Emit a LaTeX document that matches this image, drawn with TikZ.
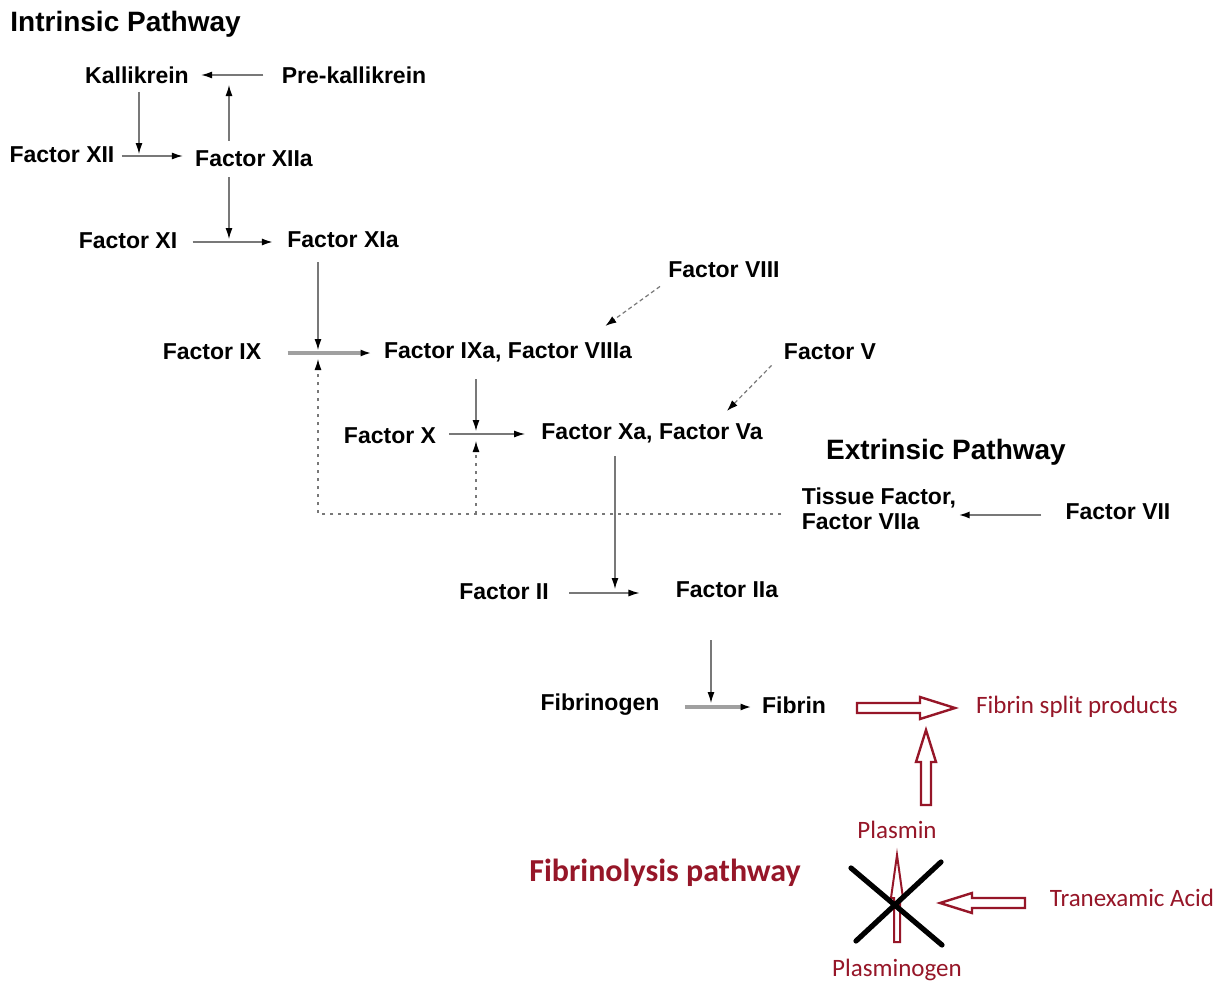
\documentclass[tikz,border=0pt]{standalone}
\usepackage{fontspec}
\setmainfont{Liberation Sans}
\newfontfamily\calfont{Carlito}
\usetikzlibrary{arrows.meta}
\definecolor{dred}{RGB}{150,22,40}
\definecolor{lgray}{RGB}{120,120,120}
\begin{document}
\begin{tikzpicture}[x=0.5pt,y=-0.5pt,
  lbl/.style={font=\fontsize{11.5}{12.5}\selectfont\bfseries, inner sep=0pt},
  ttl/.style={font=\fontsize{14}{16}\selectfont\bfseries, inner sep=0pt},
  rlbl/.style={font=\calfont\fontsize{12.5}{14}\selectfont, text=dred, inner sep=0pt},
  conn/.style={draw=lgray, line width=0.6pt, -{Latex[length=5.5pt,width=3.5pt,color=black]}},
  thick conn/.style={draw=lgray!70, line width=1.6pt, -{Latex[length=5.5pt,width=3.5pt,color=black]}},
  dconn/.style={draw=lgray, line width=0.6pt, dash pattern=on 2pt off 1.5pt, -{Latex[length=5.5pt,width=3.8pt,color=black]}},
  dotline/.style={draw=lgray, line width=0.9pt, dash pattern=on 1.5pt off 2.5pt},
  hollow/.style={draw=dred, line width=1.2pt, fill=white, line join=miter}
]
\useasboundingbox (0,0) rectangle (1228,985);
\fill[white] (0,0) rectangle (1228,985);

% titles
\node[ttl, anchor=west] (intr) at (10,24) {Intrinsic Pathway};
\node[ttl] (extr) at (946,452) {Extrinsic Pathway};
\node[font=\calfont\bfseries\fontsize{16}{18}\selectfont, text=dred, inner sep=0pt] (fibro) at (665,873) {Fibrinolysis pathway};

% nodes
\node[lbl] (kal) at (137,75) {Kallikrein};
\node[lbl] (pre) at (354,75) {Pre-kallikrein};
\node[lbl] (xii) at (62,155) {Factor XII};
\node[lbl] (xiia) at (254,159) {Factor XIIa};
\node[lbl] (xi) at (128,241) {Factor XI};
\node[lbl] (xia) at (343,240) {Factor XIa};
\node[lbl] (ix) at (212,352) {Factor IX};
\node[lbl] (ixa) at (508,352) {Factor IXa, Factor VIIIa};
\node[lbl] (viii) at (724,270) {Factor VIII};
\node[lbl] (v) at (830,352) {Factor V};
\node[lbl] (x) at (390,436) {Factor X};
\node[lbl] (xa) at (652,433) {Factor Xa, Factor Va};
\node[lbl, align=left] (tf) at (879,509) {Tissue Factor,\\Factor VIIa};
\node[lbl] (vii) at (1118,512) {Factor VII};
\node[lbl] (ii) at (504,592) {Factor II};
\node[lbl] (iia) at (727,590) {Factor IIa};
\node[lbl] (fg) at (600,705) {Fibrinogen};
\node[lbl] (fib) at (794,705) {Fibrin};
\node[rlbl] (fsp) at (1077,707) {Fibrin split products};
\node[rlbl] (plasmin) at (897,830) {Plasmin};
\node[rlbl] (tranex) at (1132,898) {Tranexamic Acid};
\node[rlbl] (plgn) at (897,970) {Plasminogen};

% row coordinates for horizontal connectors
\coordinate (r0) at (0,75);
\coordinate (r1) at (0,156);
\coordinate (r2) at (0,242);
\coordinate (r3) at (0,353);
\coordinate (r4) at (0,434);
\coordinate (r5) at (0,515);
\coordinate (r6) at (0,593);
\coordinate (r7) at (0,707);

% junction coordinates
\coordinate (j0) at (229,75);
\coordinate (j1) at (139,154);
\coordinate (j2) at (229,239);
\coordinate (j3) at (318,350);
\coordinate (j4) at (476,431);
\coordinate (j4b) at (476,441);
\coordinate (j3b) at (318,359);
\coordinate (d1) at (318,514);
\coordinate (d2) at (476,514);
\coordinate (d3) at (781,514);
\coordinate (j5) at (615,589);
\coordinate (j6) at (711,703);

% intrinsic connectors
\draw[conn] ([xshift=-9pt]pre.west |- r0) -- ([xshift=6pt]kal.east |- r0);
\draw[conn] ([yshift=5pt]xiia.north -| j0) -- ([yshift=-5pt]j0);
\draw[conn] ([yshift=-4pt]kal.south -| j1) -- (j1);
\draw[conn] ([xshift=3.5pt]xii.east |- r1) -- ([xshift=-6pt]xiia.west |- r1);
\draw[conn] ([yshift=-5pt]xiia.south -| j2) -- (j2);
\draw[conn, line width=0.9pt] ([xshift=7.5pt]xi.east |- r2) -- ([xshift=-7pt]xia.west |- r2);
\draw[conn] ([yshift=-7pt]xia.south -| j3) -- (j3);
\draw[thick conn] ([xshift=13pt]ix.east |- r3) -- ([xshift=-6pt]ixa.west |- r3);
\draw[dconn] ([shift={(-4pt,-4pt)}]viii.south west) -- ([shift={(-13.5pt,8pt)}]ixa.north east);
\draw[dconn] ([shift={(-6pt,-2.5pt)}]v.south west) -- ([shift={(-18pt,6pt)}]xa.north east);
\draw[conn] ([yshift=-8.5pt]ixa.south -| j4) -- (j4);
\draw[conn] ([xshift=6.5pt]x.east |- r4) -- ([xshift=-8pt]xa.west |- r4);
% dotted extrinsic feedback
\draw[dotline] (d3) -- (d1) -- ([yshift=-6pt]j3b);
\draw[conn] ([yshift=-2pt]j3b) -- (j3b);
\draw[dotline] (d2) -- ([yshift=-6pt]j4b);
\draw[conn] ([yshift=-2pt]j4b) -- (j4b);
% extrinsic / common
\draw[conn, line width=1pt] ([xshift=-12pt]vii.west |- r5) -- ([xshift=1pt]tf.east |- r5);
\draw[conn] ([yshift=-6.5pt]xa.south -| j5) -- (j5);
\draw[conn] ([xshift=10pt]ii.east |- r6) -- ([xshift=-18pt]iia.west |- r6);
\draw[conn] ([yshift=-21pt]iia.south -| j6) -- (j6);
\draw[thick conn] ([xshift=12.5pt]fg.east |- r7) -- ([xshift=-5pt]fib.west |- r7);

% fibrinolysis hollow arrows
\draw[hollow] (857,703) -- (920,703) -- (920,697) -- (955,708) -- (920,719) -- (920,713) -- (857,713) -- cycle;
\draw[hollow] (921,805) -- (921,762) -- (916,762) -- (926,730) -- (936,762) -- (931,762) -- (931,805) -- cycle;
\draw[hollow] (1025,898) -- (972,898) -- (972,893) -- (940,903) -- (972,913) -- (972,908) -- (1025,908) -- cycle;
\draw[hollow, line width=1pt] (894,942) -- (894,898) -- (891,898) -- (897,855) -- (903,898) -- (900,898) -- (900,942) -- cycle;
% cross
\draw[line width=2.6pt, line cap=round] (851,868) -- (942,945);
\draw[line width=2.6pt, line cap=round] (941,862) -- (856,941);
\end{tikzpicture}
\end{document}
